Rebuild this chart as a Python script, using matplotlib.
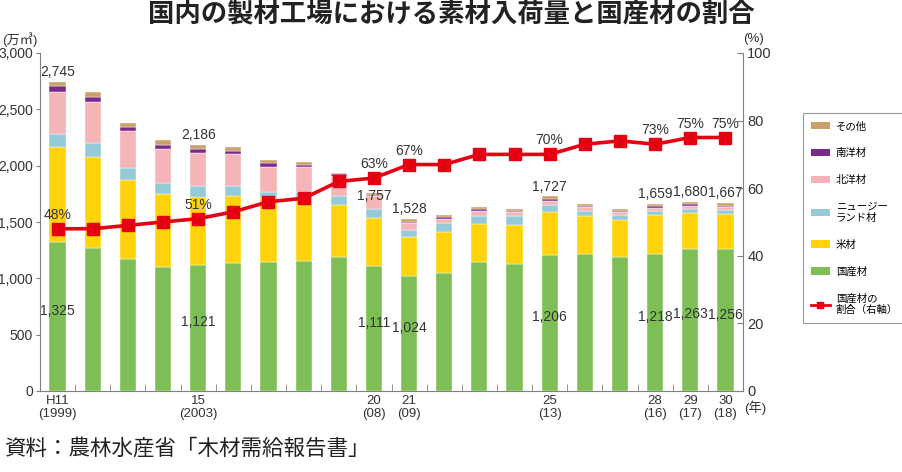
import numpy as np
import matplotlib.pyplot as plt
from matplotlib.patches import Patch
from matplotlib.lines import Line2D

plt.rcParams['font.family'] = ['Liberation Sans', 'Noto Sans CJK JP', 'DejaVu Sans']

# 年（H11=1999 〜 H30=2018）
leta = list(range(1999, 2019))

# 素材入荷量（万㎥）
kokusan = [1325, 1272, 1168, 1103, 1121, 1138, 1147, 1156, 1192, 1111,
           1024, 1050, 1142, 1124, 1206, 1215, 1192, 1218, 1263, 1256]
beizai = [843, 807, 702, 642, 603, 595, 563, 539, 458, 427,
          345, 364, 340, 349, 385, 338, 325, 344, 319, 315]
nz = [110, 124, 106, 103, 98, 89, 53, 73, 80, 80,
      60, 74, 74, 80, 59, 44, 45, 38, 33, 35]
hokuyo = [372, 359, 331, 299, 293, 281, 227, 217, 178, 112,
          62, 41, 44, 33, 39, 38, 29, 24, 29, 24]
nanyo = [56, 50, 38, 36, 32, 30, 30, 20, 15, 12,
         12, 12, 12, 8, 12, 9, 9, 14, 15, 14]
sonota = [39, 38, 36, 41, 39, 35, 30, 24, 14, 15,
          25, 21, 23, 21, 26, 15, 12, 21, 21, 23]

# 国産材の割合（%）
delez = [48, 48, 49, 50, 51, 53, 56, 57, 62, 63,
         67, 67, 70, 70, 70, 73, 74, 73, 75, 75]

# 表示するラベル
skupaj_oznake = {0: '2,745', 4: '2,186', 9: '1,757', 10: '1,528', 14: '1,727',
                 17: '1,659', 18: '1,680', 19: '1,667'}
kokusan_oznake = {0: '1,325', 4: '1,121', 9: '1,111', 10: '1,024', 14: '1,206',
                  17: '1,218', 18: '1,263', 19: '1,256'}
delez_oznake = [0, 4, 9, 10, 14, 17, 18, 19]
x_oznake = {0: 'H11\n(1999)', 4: '15\n(2003)', 9: '20\n(08)', 10: '21\n(09)',
            14: '25\n(13)', 17: '28\n(16)', 18: '29\n(17)', 19: '30\n(18)'}

barve = {
    'kokusan': '#7dbf55',
    'beizai': '#ffd20a',
    'nz': '#95cbd8',
    'hokuyo': '#f5b5b8',
    'nanyo': '#7a2a8c',
    'sonota': '#c9a067',
}
rdeca = '#e50012'
siva = '#808080'
tekst = '#333333'

fig = plt.figure(figsize=(9.03, 4.72), dpi=100)
ax = fig.add_axes([40 / 903, 1 - 391 / 472, 703 / 903, 338 / 472])

x = np.arange(len(leta))
w = 0.46
plasti = [(kokusan, 'kokusan'), (beizai, 'beizai'), (nz, 'nz'),
          (hokuyo, 'hokuyo'), (nanyo, 'nanyo'), (sonota, 'sonota')]
dno = np.zeros(len(leta))
for vals, key in plasti:
    ax.bar(x, vals, w, bottom=dno, color=barve[key], edgecolor='white',
           linewidth=0.3, zorder=2)
    dno = dno + np.array(vals)
skupaj = dno

ax.set_xlim(-0.5, 19.5)
ax.set_ylim(0, 3000)
ax.set_yticks(np.arange(0, 3001, 500))
ax.set_yticklabels([f'{v:,}' for v in range(0, 3001, 500)], fontsize=10, color=tekst)
ax.set_xticks(list(x_oznake.keys()))
ax.set_xticklabels(list(x_oznake.values()), fontsize=9.5, color=tekst, linespacing=1.05)
ax.set_xticks(np.arange(0.5, 19, 1), minor=True)
ax.tick_params(axis='x', which='major', length=0, pad=3)
ax.tick_params(axis='x', which='minor', direction='in', length=5, color=siva)
ax.tick_params(axis='y', direction='out', length=3, color=siva, pad=2)
for s in ['top', 'right']:
    ax.spines[s].set_visible(False)
for s in ['left', 'bottom']:
    ax.spines[s].set_color(siva)

# 合計と国産材のラベル
for i, t in skupaj_oznake.items():
    off = -7 if i == 9 else 2
    ax.annotate(t, (i, skupaj[i]), xytext=(0, off), textcoords='offset points',
                ha='center', va='bottom', fontsize=10, color=tekst, zorder=5)
for i, t in kokusan_oznake.items():
    ax.text(i, kokusan[i] / 2 + 50, t, ha='center', va='center', fontsize=10,
            color=tekst, zorder=5)

ax2 = ax.twinx()
ax2.plot(x, delez, color=rdeca, linewidth=2.6, marker='s', markersize=9, zorder=4)
ax2.set_ylim(0, 100)
ax2.set_yticks(np.arange(0, 101, 20))
ax2.set_yticklabels([str(v) for v in range(0, 101, 20)], fontsize=10.5, color=tekst)
ax2.tick_params(axis='y', direction='in', length=4, color=siva, pad=3)
for s in ['top', 'left', 'bottom']:
    ax2.spines[s].set_visible(False)
ax2.spines['right'].set_color(siva)
for i in delez_oznake:
    ax2.annotate(f'{delez[i]}%', (i, delez[i]), xytext=(0, 5), textcoords='offset points',
                 ha='center', va='bottom', fontsize=10, color=tekst)

# 単位
fig.text(20 / 903, 1 - 40 / 472, '(万㎥)', ha='center', va='center', fontsize=9.5, color=tekst)
fig.text(754 / 903, 1 - 39 / 472, '(%)', ha='center', va='center', fontsize=9.5, color=tekst)
fig.text(755 / 903, 1 - 408 / 472, '(年)', ha='center', va='center', fontsize=9.5, color=tekst)

fig.text(451 / 903, 1 - 15 / 472, '国内の製材工場における素材入荷量と国産材の割合',
         ha='center', va='center', fontsize=19, fontweight='bold', color='#222222')
fig.text(4 / 903, 1 - 449 / 472, '資料：農林水産省「木材需給報告書」',
         ha='left', va='center', fontsize=15.5, color='#222222')

# 凡例
rocaji = [
    Patch(facecolor=barve['sonota'], label='その他'),
    Patch(facecolor=barve['nanyo'], label='南洋材'),
    Patch(facecolor=barve['hokuyo'], label='北洋材'),
    Patch(facecolor=barve['nz'], label='ニュージー\nランド材'),
    Patch(facecolor=barve['beizai'], label='米材'),
    Patch(facecolor=barve['kokusan'], label='国産材'),
    Line2D([0], [0], color=rdeca, linewidth=2, marker='s', markersize=5,
           label='国産材の\n割合（右軸）'),
]
leg = fig.legend(handles=rocaji, loc='upper left', bbox_to_anchor=(803 / 903, 1 - 113 / 472),
                 fontsize=7.5, frameon=True, fancybox=False, edgecolor=siva,
                 handlelength=1.75, handleheight=0.7, labelspacing=1.6,
                 borderpad=0.8, handletextpad=0.6, borderaxespad=0)
leg.get_frame().set_linewidth(0.8)

fig.savefig('out.png', dpi=100)
